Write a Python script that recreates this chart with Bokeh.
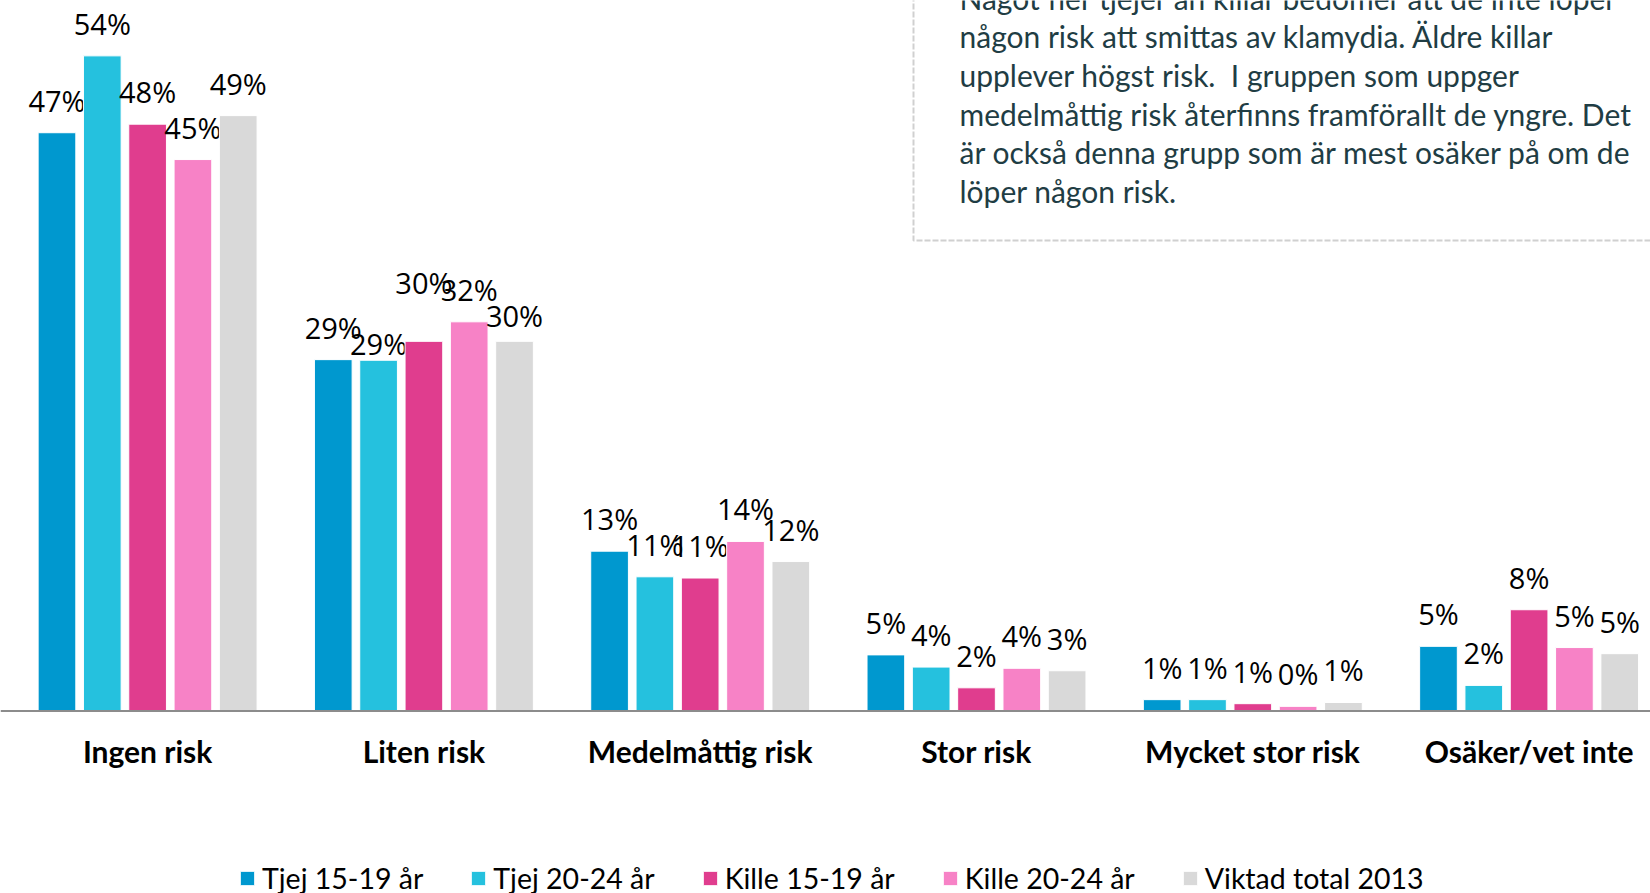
from bokeh.plotting import figure
from bokeh.models import Range1d, Span, Legend, LegendItem, ColumnDataSource
from bokeh.core.properties import value
from bokeh.embed import file_html
from bokeh.resources import INLINE

# ---------------- data ----------------
categories = ["Ingen risk", "Liten risk", "Medelmåttig risk", "Stor risk",
              "Mycket stor risk", "Osäker/vet inte"]
series = ["Tjej 15-19 år", "Tjej 20-24 år", "Kille 15-19 år", "Kille 20-24 år",
          "Viktad total 2013"]
tjej_15_19 = [47.4, 28.8, 13.1, 4.6, 0.93, 5.3]
tjej_20_24 = [53.7, 28.75, 11.0, 3.6, 0.93, 2.1]
kille_15_19 = [48.1, 30.3, 10.9, 1.9, 0.6, 8.3]
kille_20_24 = [45.2, 31.9, 13.9, 3.5, 0.38, 5.2]
viktad_total = [48.8, 30.3, 12.25, 3.3, 0.7, 4.7]
series_values = [tjej_15_19, tjej_20_24, kille_15_19, kille_20_24, viktad_total]

note_lines = [
    "Något fler tjejer än killar bedömer att de inte löper",
    "någon risk att smittas av klamydia. Äldre killar",
    "upplever högst risk.\u00a0 I gruppen som uppger",
    "medelmåttig risk återfinns framförallt de yngre. Det",
    "är också denna grupp som är mest osäker på om de",
    "löper någon risk.",
]

# ---------------- style ----------------
colors = ["#0098CF", "#25C1DE", "#E03D8E", "#F782C6", "#D9D9D9"]
label_nudge = {("Liten risk", "Tjej 20-24 år"): 16,
               ("Liten risk", "Kille 15-19 år"): -26,
               ("Liten risk", "Viktad total 2013"): 7}

W, H = 1650, 893
PX_PER_UNIT_Y = 12.2        # pixels per percent
BASE_Y = 710.5              # canvas y of the baseline
PX_PER_CAT = 276.3          # pixels per category
CAT0_X = 147.1              # canvas x of first category centre
bar_w = 0.1364
pitch = 0.164

x_start = -CAT0_X / PX_PER_CAT
x_end = x_start + W / PX_PER_CAT
y_top = BASE_Y / PX_PER_UNIT_Y
y_bot = -(H - BASE_Y) / PX_PER_UNIT_Y


def cx(px):
    return x_start + px / PX_PER_CAT


def cy(py):
    return (BASE_Y - py) / PX_PER_UNIT_Y


p = figure(width=W, height=H, x_range=Range1d(x_start, x_end),
           y_range=Range1d(y_bot, y_top), x_axis_location=None,
           y_axis_location=None, toolbar_location=None, output_backend="svg",
           min_border=0, outline_line_color=None)
p.grid.grid_line_color = None
p.background_fill_color = "white"

items = []
n = len(series)
for j, (name, vals, col) in enumerate(zip(series, series_values, colors)):
    xs = [i + (j - (n - 1) / 2) * pitch for i in range(len(categories))]
    offs = [-32.5 + label_nudge.get((c, name), 0) for c in categories]
    src = ColumnDataSource(dict(x=xs, top=vals,
                                label=[f"{v:.0f}%" for v in vals], off=offs))
    r = p.vbar(x="x", top="top", bottom=0, width=bar_w, source=src,
               fill_color=col, line_color="white", line_width=1)
    p.text(x="x", y="top", text="label", y_offset="off", source=src,
           text_font=value("Open Sans"), text_font_size="29px",
           text_color="#000000", text_align="center", text_baseline="middle")
    items.append(LegendItem(label=name, renderers=[r]))

# baseline (category axis line)
p.add_layout(Span(location=0, dimension="width", line_color="#8C8C8C",
                  line_width=2))

# category labels
p.text(x=list(range(len(categories))), y=[0] * len(categories),
       text=categories, y_offset=40, text_font=value("Lato"),
       text_font_style="bold", text_font_size="30px", text_color="#000000",
       text_align="center", text_baseline="middle")

# note box (dashed frame, partially outside the view)
box_left = cx(913)
box_bottom = cy(240)
p.line(x=[box_left, box_left, x_end + 1], y=[y_top + 5, box_bottom, box_bottom],
       line_color="#D0D0D0", line_width=2, line_dash="6 2")

line_h = 38.7
p.text(x=[cx(959)] * len(note_lines),
       y=[cy(-2.9 + k * line_h) for k in range(len(note_lines))],
       text=note_lines, text_font=value("Lato"), text_font_size="30px",
       text_color="#1F3D44", text_align="left", text_baseline="middle")

legend = Legend(items=items, orientation="horizontal", location=(238, -2),
                glyph_width=18, glyph_height=18, label_standoff=6, spacing=46,
                padding=0, margin=0, border_line_color=None,
                background_fill_alpha=0, label_text_font="Lato",
                label_text_font_size="28.5px", label_text_color="#000000")
p.add_layout(legend)

open("out.html", "w").write(file_html(p, INLINE))
